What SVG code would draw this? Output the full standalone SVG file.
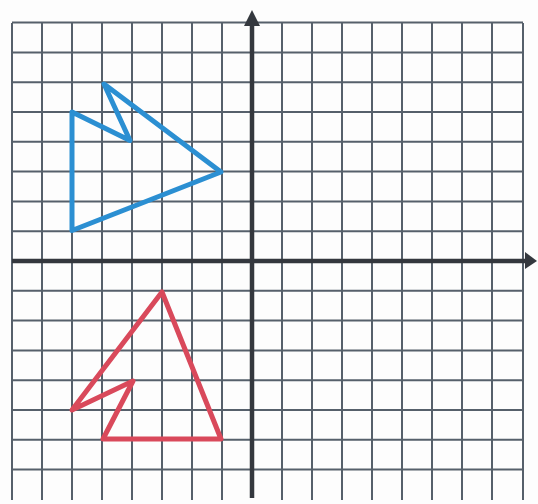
<svg xmlns="http://www.w3.org/2000/svg" width="538" height="504" viewBox="0 0 538 504">
<style>
.grid{stroke:#56606b;stroke-width:2;fill:none}
.axis{stroke:#34383e;stroke-width:4.5;fill:none}
.blue{stroke:#2b8fd2;stroke-width:5;fill:none;stroke-linejoin:round}
.red{stroke:#d9495b;stroke-width:5;fill:none;stroke-linejoin:round}
</style>
<rect width="538" height="504" fill="#fdfdfd"/>
<g id="grid" class="grid">
<path d="M12 23V500M42 23V500M72 23V500M102 23V500M132 23V500M162 23V500M192 23V500M222 23V500M282 23V500M312 23V500M342 23V500M372 23V500M402 23V500M432 23V500M462 23V500M492 23V500M523 23V500"/>
<path d="M12 22.6H523M12 52.4H523M12 82.2H523M12 112H523M12 141.8H523M12 171.6H523M12 201.4H523M12 231.2H523M12 290.8H523M12 320.6H523M12 350.4H523M12 380.2H523M12 410H523M12 439.8H523M12 469.6H523"/>
</g>
<g id="axes">
<path class="axis" d="M252 24V498"/>
<polygon points="252,10 244,26 260,26" fill="#34383e"/>
<path class="axis" d="M12 261H526"/>
<polygon points="537,261 525,252 525,269" fill="#34383e"/>
</g>
<g id="blue-shape">
<polygon class="blue" points="72,112 130,140.5 104,84 221,172 72,230.5"/>
</g>
<g id="red-shape">
<polygon class="red" points="162,292 221,439 103,439 133,381 72,410"/>
</g>
</svg>
